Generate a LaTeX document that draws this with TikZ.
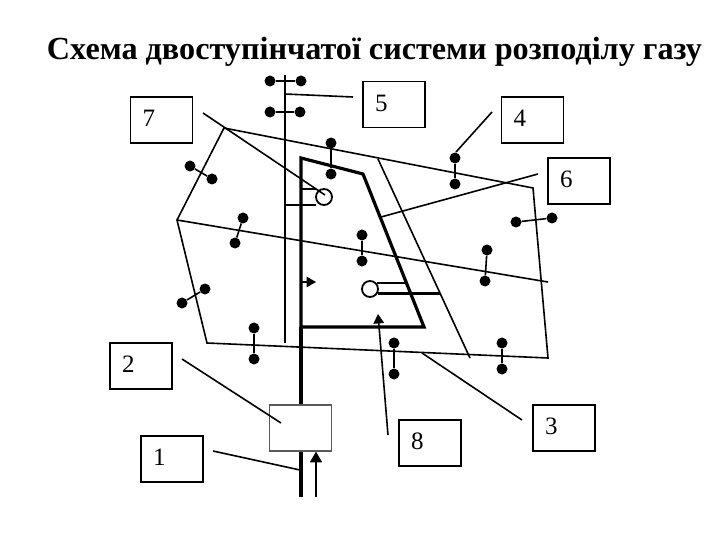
\documentclass[tikz,border=0pt]{standalone}
\usepackage{fontspec}
\setmainfont{Liberation Serif}
\usetikzlibrary{arrows}

\begin{document}
\begin{tikzpicture}[x = 1pt, y = -1pt,
	thinline/.style = {line width = 1.6pt, black},
	mainline/.style = {line width = 3.2pt, black},
	dot/.style = {circle, fill = black, inner sep = 0pt, minimum size = 11pt},
	valve/.style = {circle, draw = black, line width = 1.8pt, inner sep = 0pt, minimum size = 16pt},
	numbox/.style = {draw = black, line width = 1.8pt, fill = white, font = \fontsize{25}{30}\selectfont, text width = 38pt, inner xsep = 12pt, minimum height = 46pt, text depth = 3pt, align = left}]
	\useasboundingbox (0, 0) rectangle (720, 540);

	\node (title) at (374.5, 59.5) [anchor = base, font = \fontsize{32.2}{38}\bfseries\selectfont] {Схема двоступінчатої системи розподілу газу};

	% numbered boxes
	\foreach \name/\x/\y/\num in {b7/161.5/120/7, b5/394/104.5/5, b4/532.5/120/4, b6/579/181/6, b2/141/366/2, b1/172/459/1, b8/430/443/8, b3/564/428/3}
		\node (\name) at (\x, \y) [numbox] {\num};
	\node (reg) at (300.5, 428) [draw = black!65, line width = 1.3pt, minimum width = 62pt, minimum height = 46pt] {};

	% consumers
	\foreach \name/\x/\y in {d1a/270/81, d1b/301/81, d2a/270/112, d2b/300/112, d3a/331/143, d3b/331/174, d4a/190/166, d4b/212/179, d5a/243/218, d5b/235/243, d6a/205/289, d6b/182/303, d7a/254/328, d7b/254/359, d8a/362/235, d8b/362/261, d9a/394/343, d9b/394/374, d10a/455/158, d10b/455/184, d11a/516/222, d11b/552/218, d12a/487/250, d12b/485/281, d13a/502/343, d13b/502/369}
		\node (\name) at (\x, \y) [dot] {};
	\foreach \from/\to in {d1a/d1b, d2a/d2b, d3a/d3b, d4a/d4b, d5a/d5b, d6a/d6b, d7a/d7b, d8a/d8b, d9a/d9b, d10a/d10b, d11a/d11b, d12a/d12b, d13a/d13b}
		\draw [thinline] (\from) -- (\to);

	\node (v1) at (324, 197) [valve] {};
	\node (v2) at (370, 289) [valve] {};

	% low pressure ring
	\coordinate (p1) at (224, 128);
	\coordinate (p2) at (533, 188);
	\coordinate (p3) at (548, 358);
	\coordinate (p4) at (207, 343);
	\coordinate (p5) at (177, 220);
	\coordinate (p6) at (548, 282);
	\draw [thinline] (p1) -- (p2) -- (p3) -- (p4) -- (p5) -- cycle;
	\draw [thinline] (p5) -- (p6);

	% long thin branches
	\coordinate (t1) at (378, 159);
	\coordinate (t2) at (470, 358);
	\draw [thinline] (t1) -- (t2);
	\coordinate (h1) at (285, 75);
	\coordinate (h2) at (285, 343);
	\coordinate (h3) at (285, 205);
	\coordinate (h4) at (316, 205);
	\draw [thinline] (h1) -- (h2);
	\draw [thinline] (h3) -- (h4);

	% high pressure main
	\coordinate (m1) at (301, 158);
	\coordinate (m2) at (363, 174);
	\coordinate (m3) at (424, 327);
	\coordinate (m4) at (301, 327);
	\coordinate (m5) at (301, 497);
	\coordinate (m6) at (301, 189);
	\coordinate (m7) at (316, 189);
	\coordinate (m8) at (301, 282);
	\coordinate (m9) at (316, 282);
	\draw [mainline, line cap = rect] (m4) -- (m3) -- (m2) -- (m1) -- (m4);
	\draw [mainline] (m4) -- (m4 |- reg.north);
	\draw [mainline] (m4 |- reg.south) -- (m5);
	\draw [thinline] (m6) -- (m7);
	\draw [thinline, -triangle 60] (m8) -- (m9);
	\coordinate (s1) at (408, 282);
	\coordinate (s2) at (440, 296);
	\draw [mainline, line width = 2.4pt] (v2.40) -- (s1 |- v2.40);
	\draw [mainline, line width = 2.4pt] (v2.-30) -- (s2 |- v2.-30);

	% inlet
	\coordinate (in) at (316, 497);
	\draw [mainline, line width = 2pt, -triangle 60] (in) -- (in |- reg.south);

	% leaders
	\foreach \name/\ax/\ay/\bx/\by in {l7/203/113/325/195, l5/353/97/285/94, l4/492/112/456/152, l6/538/174/381/217, l2/182/359/281/423, l1/213/451/300/470, l3/522/420/422/353}
		\draw [thinline] (\ax, \ay) coordinate (\name a) -- (\bx, \by) coordinate (\name b);
	\coordinate (l8a) at (388, 435);
	\coordinate (l8b) at (378, 314);
	\draw [thinline, -triangle 60] (l8a) -- (l8b);
\end{tikzpicture}
\end{document}
